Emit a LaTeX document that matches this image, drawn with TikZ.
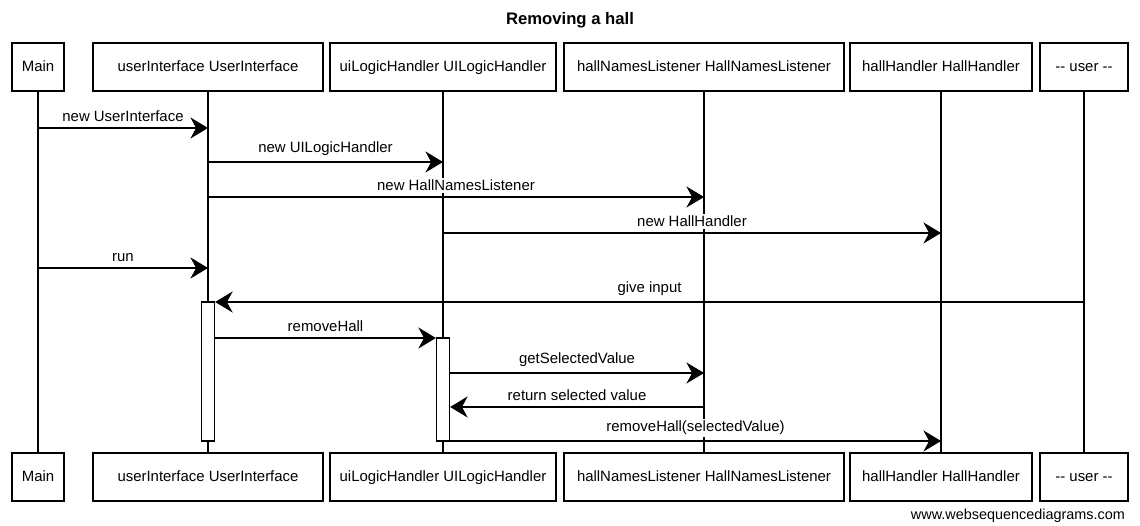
\documentclass[tikz,border=0pt]{standalone}
\usepackage{fontspec}
\setmainfont{Liberation Sans}
\usetikzlibrary{arrows.meta}
\begin{document}
\begin{tikzpicture}[x=0.02cm,y=-0.02cm,
	every node/.style={font=\fontsize{8.5}{10}\selectfont},
	actor/.style={draw,fill=white,line width=0.8pt,minimum height=0.96cm,inner sep=2pt,
		text height=0.72em,text depth=0.2em},
	life/.style={line width=0.6pt},
	msg/.style={line width=0.8pt,-{Stealth[length=10pt,width=12pt]}},
	act/.style={draw,fill=white,line width=0.7pt,minimum width=0.26cm,inner sep=0pt},
	lbl/.style={above=2pt,fill=white,inner sep=1pt}]
	\useasboundingbox (0,0) rectangle (1140,526);
	\node[anchor=center,font=\fontsize{9.5}{11}\selectfont\bfseries] (title) at (570,20)
		{Removing a hall};
	\foreach \n/\x/\w/\t in {main/38/1.04/Main,ui/208/4.6/userInterface UserInterface,
			logic/443/4.52/uiLogicHandler UILogicHandler,names/704/5.6/hallNamesListener HallNamesListener,
			hall/941/3.64/hallHandler HallHandler,user/1084/1.76/{-{}- user -{}-}} {
		\node[actor,minimum width=\w cm] (\n T) at (\x,67) {\t};
		\node[actor,minimum width=\w cm] (\n B) at (\x,477) {\t};
		\draw[life] (\n T) -- (\n B);
	}
	\node[act,minimum height=2.78cm] (uiAct) at (208,371.5) {};
	\node[act,minimum height=2.06cm] (logicAct) at (443,389.5) {};
	\draw[msg] (mainT.south |- 0,128) -- node[lbl]{new UserInterface} (uiT.south |- 0,128);
	\draw[msg] (uiT.south |- 0,162) -- node[lbl]{new UILogicHandler} (logicT.south |- 0,162);
	\draw[msg] (uiT.south |- 0,197) -- node[lbl]{new HallNamesListener} (namesT.south |- 0,197);
	\draw[msg] (logicT.south |- 0,233) -- node[lbl]{new HallHandler} (hallT.south |- 0,233);
	\draw[msg] (mainT.south |- 0,268) -- node[lbl]{run} (uiT.south |- 0,268);
	\draw[msg] (userT.south |- 0,302) -- node[lbl]{give input} (uiAct.east |- 0,302);
	\draw[msg] (uiAct.east |- 0,338) -- node[lbl]{removeHall} (logicAct.west |- 0,338);
	\draw[msg] (logicAct.east |- 0,373) -- node[lbl]{getSelectedValue} (namesT.south |- 0,373);
	\draw[msg] (namesT.south |- 0,407) -- node[lbl]{return selected value} (logicAct.east |- 0,407);
	\draw[msg] (logicAct.east |- 0,441) -- node[lbl]{removeHall(selectedValue)} (hallT.south |- 0,441);
	\node[anchor=east,font=\fontsize{8.2}{10}\selectfont] (credit) at (1131,516) {www.websequencediagrams.com};
\end{tikzpicture}
\end{document}
